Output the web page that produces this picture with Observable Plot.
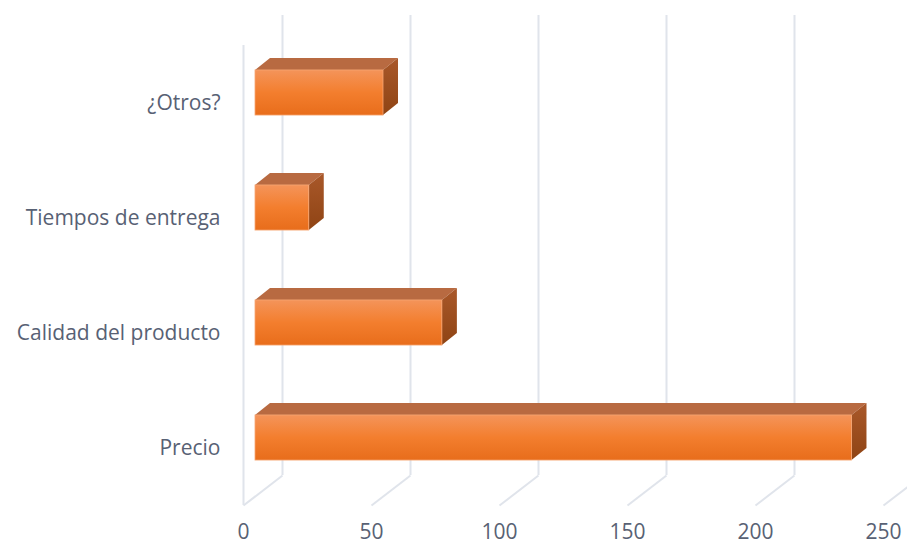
<!DOCTYPE html>
<html>
<head>
<meta charset="utf-8">
<script src="https://cdn.jsdelivr.net/npm/d3@7"></script>
<script src="https://cdn.jsdelivr.net/npm/@observablehq/plot@0.6"></script>
<style>
  html, body { margin: 0; padding: 0; background: #fff; overflow: hidden; }
  #chart { width: 907px; height: 546px; }
</style>
</head>
<body>
<div id="chart"></div>
<script>
// ---- data ----
const categories = ["Precio", "Calidad del producto", "Tiempos de entrega", "¿Otros?"];
const values = [233, 73, 21, 50];
const xTicks = [0, 50, 100, 150, 200, 250];

// ---- layout ----
const W = 907, H = 546;
const mL = 243, mR = 24, mT = 45, mB = 41;
const KX = (W - mL - mR) / 250;           // px per value unit
const KY = (H - mT - mB) / categories.length; // px per category step
const WALL_DX = 39, WALL_DY = 30;         // depth of the back wall (px)
const BAR_OX = 12, BAR_OY = 10;           // bar front plane offset (px)
const BAR_DX = 15, BAR_DY = 12;           // bar depth (px)
const HALF = 0.196;                        // half bar thickness in category units

const rows = categories.map((c, i) => ({c, i, v: values[i]}));
const topFace = rows.flatMap(r => [
  {c: r.c, y: r.i + HALF, x1: 0, x2: r.v},
  {c: r.c, y: r.i + HALF + BAR_DY / KY, x1: BAR_DX / KX, x2: r.v + BAR_DX / KX}
]);
const sideFace = rows.flatMap(r => [
  {c: r.c, x: r.v, y1: r.i - HALF, y2: r.i + HALF},
  {c: r.c, x: r.v + BAR_DX / KX, y1: r.i - HALF + BAR_DY / KY, y2: r.i + HALF + BAR_DY / KY}
]);

const grid = "#e0e4eb";
const y0 = -0.5, y1 = categories.length - 0.5;

const svg = Plot.plot({
  width: W,
  height: H,
  marginLeft: mL, marginRight: mR, marginTop: mT, marginBottom: mB,
  style: {fontFamily: "'Open Sans', sans-serif", fontSize: "21px", color: "#586174", background: "#fff", overflow: "hidden"},
  x: {domain: [0, 250], ticks: xTicks, tickSize: 0, tickPadding: 19, label: null},
  y: {domain: [y0, y1], ticks: categories.map((_, i) => i), tickFormat: i => categories[i], tickSize: 0, tickPadding: 23, label: null},
  marks: [
    // left wall edge
    Plot.ruleX([0], {x: d => d, y1: y0, y2: y1, stroke: grid, strokeWidth: 2}),
    // back wall gridlines
    Plot.ruleX(xTicks, {x: d => d, y1: y0, y2: y1, dx: WALL_DX, dy: -WALL_DY, stroke: grid, strokeWidth: 2}),
    // floor gridlines
    Plot.link(xTicks, {x1: d => d, y1: y0, x2: d => d + WALL_DX / KX, y2: y0 + WALL_DY / KY, stroke: grid, strokeWidth: 2}),
    // bar top faces
    Plot.areaX(topFace, {y: "y", x1: "x1", x2: "x2", z: "c", fill: "#b86a41", dx: BAR_OX, dy: -BAR_OY}),
    // bar side faces
    Plot.areaY(sideFace, {x: "x", y1: "y1", y2: "y2", z: "c", fill: "url(#sideGrad)", dx: BAR_OX, dy: -BAR_OY}),
    // bar front faces
    Plot.rect(rows, {x1: 0, x2: "v", y1: d => d.i - HALF, y2: d => d.i + HALF, fill: "url(#frontGrad)", stroke: "#f7a673", strokeWidth: 0.8, dx: BAR_OX, dy: -BAR_OY})
  ]
});

const s = d3.select(svg);
const defs = s.insert("defs", ":first-child");
const fg = defs.append("linearGradient").attr("id", "frontGrad").attr("x1", 0).attr("y1", 0).attr("x2", 0).attr("y2", 1);
fg.append("stop").attr("offset", "0%").attr("stop-color", "#f4945a");
fg.append("stop").attr("offset", "50%").attr("stop-color", "#f37e2e");
fg.append("stop").attr("offset", "100%").attr("stop-color", "#e86d1b");
const sg = defs.append("linearGradient").attr("id", "sideGrad").attr("x1", 0).attr("y1", 0).attr("x2", 0).attr("y2", 1);
sg.append("stop").attr("offset", "0%").attr("stop-color", "#a9582a");
sg.append("stop").attr("offset", "100%").attr("stop-color", "#8f4414");

document.getElementById("chart").appendChild(svg);
</script>
</body>
</html>
